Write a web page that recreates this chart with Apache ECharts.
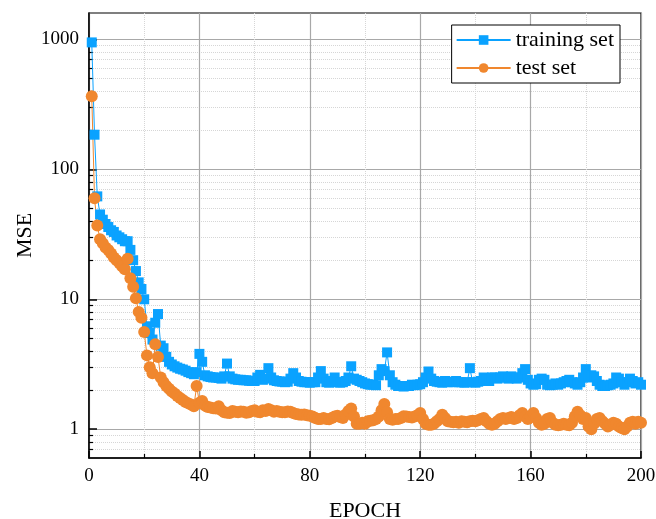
<!DOCTYPE html>
<html>
<head>
<meta charset="utf-8">
<script src="https://cdn.jsdelivr.net/npm/echarts@6/dist/echarts.min.js"></script>
<style>html,body{margin:0;padding:0;background:#fff}#c{width:656px;height:519px}</style>
</head>
<body>
<div id="c"></div>
<script>
// MSE per epoch (epochs 1..200)
var trainingSet = [
 950,185,62,45,41,38,36,34,33,31,
 30,29,28,28,24,20,16.5,13.5,12,10,
 6.2,5.5,4.9,6.6,7.7,4.4,4.2,3.6,3.3,3.15,
 3.05,2.98,2.92,2.88,2.82,2.75,2.7,2.65,2.75,3.8,
 3.3,2.6,2.55,2.52,2.5,2.5,2.48,2.45,2.55,3.2,
 2.55,2.45,2.42,2.4,2.4,2.38,2.38,2.36,2.35,2.35,
 2.5,2.62,2.4,2.45,2.95,2.5,2.38,2.35,2.33,2.32,
 2.3,2.32,2.45,2.7,2.5,2.35,2.32,2.3,2.3,2.28,
 2.3,2.3,2.5,2.8,2.45,2.3,2.28,2.35,2.5,2.3,
 2.28,2.3,2.35,2.5,3.05,2.45,2.4,2.35,2.3,2.25,
 2.22,2.2,2.2,2.18,2.6,2.9,2.8,3.9,2.6,2.3,
 2.2,2.15,2.15,2.13,2.15,2.15,2.2,2.18,2.2,2.22,
 2.3,2.5,2.78,2.45,2.35,2.32,2.3,2.28,2.35,2.3,
 2.32,2.3,2.35,2.3,2.3,2.28,2.3,2.95,2.3,2.28,
 2.32,2.35,2.5,2.4,2.35,2.5,2.5,2.45,2.5,2.55,
 2.5,2.45,2.55,2.5,2.45,2.5,2.7,2.9,2.4,2.25,
 2.2,2.22,2.4,2.45,2.4,2.2,2.18,2.2,2.25,2.2,
 2.25,2.3,2.35,2.4,2.3,2.25,2.2,2.3,2.5,2.9,
 2.5,2.6,2.55,2.35,2.2,2.15,2.15,2.18,2.2,2.25,
 2.5,2.45,2.3,2.2,2.3,2.45,2.35,2.25,2.3,2.2
];
var testSet = [
 365,60,37,29,27,25,24,22.5,21,20,
 19,18,17,20.5,14.5,12.5,10.2,8,7.2,5.6,
 3.7,3.0,2.7,4.5,3.6,2.5,2.3,2.15,2.05,1.95,
 1.88,1.8,1.74,1.68,1.62,1.58,1.55,1.5,2.15,1.6,
 1.65,1.52,1.48,1.47,1.45,1.44,1.5,1.4,1.35,1.34,
 1.33,1.38,1.36,1.35,1.37,1.36,1.34,1.35,1.38,1.4,
 1.36,1.35,1.4,1.38,1.43,1.4,1.36,1.38,1.36,1.35,
 1.35,1.37,1.36,1.33,1.31,1.3,1.29,1.3,1.28,1.27,
 1.25,1.22,1.2,1.2,1.22,1.2,1.19,1.22,1.25,1.27,
 1.24,1.22,1.3,1.38,1.44,1.25,1.1,1.1,1.12,1.1,
 1.15,1.16,1.17,1.2,1.25,1.4,1.56,1.35,1.2,1.18,
 1.2,1.2,1.22,1.26,1.25,1.24,1.23,1.25,1.28,1.33,
 1.2,1.1,1.08,1.08,1.1,1.15,1.2,1.29,1.22,1.15,
 1.14,1.13,1.14,1.12,1.15,1.14,1.13,1.15,1.16,1.15,
 1.17,1.2,1.22,1.15,1.1,1.08,1.1,1.15,1.2,1.22,
 1.2,1.22,1.24,1.2,1.22,1.28,1.33,1.25,1.2,1.25,
 1.33,1.22,1.12,1.08,1.1,1.2,1.22,1.12,1.08,1.07,
 1.08,1.1,1.08,1.07,1.12,1.25,1.36,1.28,1.2,1.22,
 1.05,1.0,1.1,1.2,1.22,1.15,1.1,1.05,1.08,1.12,
 1.1,1.05,1.02,1.0,1.05,1.12,1.14,1.1,1.14,1.12
];
var yMajorTicks = [1, 10, 100, 1000];
var yMinorTicks = [0.7,0.8,0.9,2,3,4,5,6,7,8,9,20,30,40,50,60,70,80,90,200,300,400,500,600,700,800,900];
var seriesNames = ['training set', 'test set'];

var FONT = 'Liberation Serif';
function pairs(arr){ return arr.map(function(v,i){ return [i+1, v]; }); }

var chart = echarts.init(document.getElementById('c'), null, {renderer:'canvas'});
chart.setOption({
  animation: false,
  backgroundColor: '#fff',
  textStyle: {fontFamily: FONT},
  grid: {left: 89, right: 15, top: 13, bottom: 61, containLabel: false, outerBoundsMode: 'none',
    show: true, borderColor: '#000', borderWidth: 1.2, backgroundColor: 'transparent'},
  legend: {
    orient: 'vertical', right: 36, top: 25,
    borderColor: '#000', borderWidth: 1, backgroundColor: '#fff',
    padding: [4, 6, 4, 4], itemGap: 6, itemWidth: 54, itemHeight: 12,
    textStyle: {fontFamily: FONT, fontSize: 22, color: '#000'},
    data: seriesNames
  },
  xAxis: {
    type: 'value', min: 0, max: 200, interval: 40,
    name: 'EPOCH', nameLocation: 'middle', nameGap: 42, nameMoveOverlap: false,
    nameTextStyle: {fontFamily: FONT, fontSize: 22, color: '#000'},
    axisLine: {show: true, lineStyle: {color: '#000', width: 1.5}},
    axisTick: {show: true, inside: true, length: 7, lineStyle: {color: '#000', width: 1.5}},
    minorTick: {show: true, splitNumber: 2, length: 4, lineStyle: {color: '#000', width: 1.2}},
    axisLabel: {fontFamily: FONT, fontSize: 19, color: '#000', margin: 9},
    splitLine: {show: true, lineStyle: {color: '#a8a8a8', width: 1.2}},
    minorSplitLine: {show: true, lineStyle: {color: '#d6d6d6', width: 1, type: 'dotted'}}
  },
  yAxis: [{
    type: 'log', logBase: 10, min: 0.6, max: 1600,
    name: 'MSE', nameLocation: 'middle', nameGap: 53, nameRotate: 90, nameMoveOverlap: false,
    nameTextStyle: {fontFamily: FONT, fontSize: 22, color: '#000'},
    axisLine: {show: true, lineStyle: {color: '#000', width: 1.5}},
    axisTick: {show: true, inside: true, length: 8, customValues: yMajorTicks, lineStyle: {color: '#000', width: 1.5}},
    axisLabel: {fontFamily: FONT, fontSize: 19, color: '#000', margin: 10, customValues: yMajorTicks,
      formatter: function (v) { return String(v); }},
    splitLine: {show: true, lineStyle: {color: '#a8a8a8', width: 1.2}}
  }, {
    type: 'log', logBase: 10, min: 0.6, max: 1600, position: 'left',
    axisLine: {show: false},
    axisTick: {show: true, inside: true, length: 4, customValues: yMinorTicks, lineStyle: {color: '#000', width: 1.2}},
    axisLabel: {show: false, customValues: yMinorTicks},
    splitLine: {show: true, lineStyle: {color: '#d6d6d6', width: 1, type: 'dotted'}}
  }],
  series: [{
    name: seriesNames[0], type: 'line', yAxisIndex: 0,
    data: pairs(trainingSet),
    symbol: 'rect', symbolSize: 10,
    itemStyle: {color: '#0aa2ff'},
    lineStyle: {color: '#0aa2ff', width: 1}
  }, {
    name: seriesNames[1], type: 'line', yAxisIndex: 0,
    data: pairs(testSet),
    symbol: 'circle', symbolSize: 12,
    itemStyle: {color: '#f0872e'},
    lineStyle: {color: '#f0872e', width: 1}
  }]
});
</script>
</body>
</html>
